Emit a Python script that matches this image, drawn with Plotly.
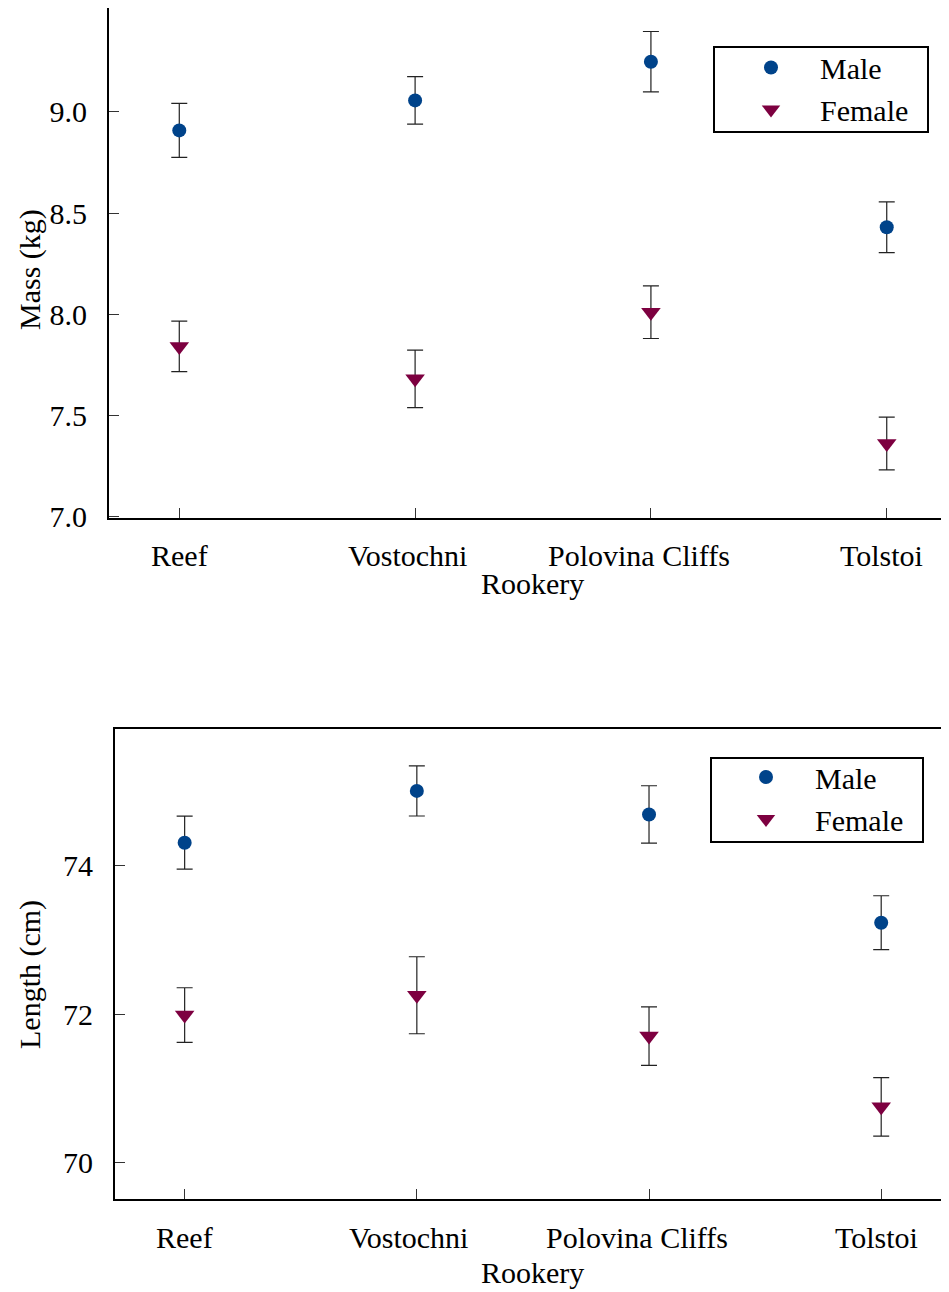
import plotly.graph_objects as go

rookeries = ["Reef", "Vostochni", "Polovina Cliffs", "Tolstoi"]

mass_male = [8.908, 9.056, 9.247, 8.430]
mass_male_err = [0.133, 0.117, 0.149, 0.125]
mass_female = [7.842, 7.682, 8.011, 7.363]
mass_female_err = [0.125, 0.142, 0.130, 0.130]

len_male = [74.31, 75.007, 74.69, 73.233]
len_male_err = [0.357, 0.338, 0.386, 0.363]
len_female = [71.99, 72.257, 71.707, 70.755]
len_female_err = [0.368, 0.518, 0.394, 0.393]

mass_ticks = [7.0, 7.5, 8.0, 8.5, 9.0]
len_ticks = [70, 72, 74]

# horizontal nudge (px) of each category label, as in the original layout
LABEL_SHIFT = [0, -8, -12, -5]

MALE_COLOR = "#00438A"
FEMALE_COLOR = "#7D0040"
FONT = "Liberation Serif"

OFF = 8                  # page body margin
W, H = 949 - OFF, 1292

fig = go.Figure()

def add_pair(male, male_err, female, female_err, xa, ya, legend):
    fig.add_trace(go.Scatter(
        x=rookeries, y=male, mode="markers", name="Male",
        marker=dict(symbol="circle", size=14, color=MALE_COLOR),
        error_y=dict(type="data", array=male_err, visible=True,
                     color="#222222", thickness=1.2, width=8),
        xaxis=xa, yaxis=ya, legend=legend))
    fig.add_trace(go.Scatter(
        x=rookeries, y=female, mode="markers", name="Female",
        marker=dict(symbol="triangle-down", size=17, color=FEMALE_COLOR),
        error_y=dict(type="data", array=female_err, visible=True,
                     color="#222222", thickness=1.2, width=8),
        xaxis=xa, yaxis=ya, legend=legend))

add_pair(mass_male, mass_male_err, mass_female, mass_female_err, "x", "y", "legend")
add_pair(len_male, len_male_err, len_female, len_female_err, "x2", "y2", "legend2")

def fy(ref_y):
    return ref_y - OFF

def py(ref_y):
    return min(1.0, 1 - fy(ref_y) / H)

def pyf(fig_y):
    return 1 - fig_y / H

def px(ref_x):
    return (ref_x - OFF) / W

axis_common = dict(
    showline=True, linecolor="black", linewidth=2,
    ticks="inside", ticklen=10, tickwidth=1, tickcolor="#333333",
    showgrid=False, zeroline=False, automargin=False,
    tickfont=dict(family=FONT, size=30, color="black"),
)

legend_common = dict(
    xanchor="left", yanchor="top", borderwidth=0,
    bgcolor="rgba(0,0,0,0)", font=dict(family=FONT, size=30, color="black"),
    itemwidth=88, tracegroupgap=0,
)

annotations = [
    dict(text="Mass (kg)", x=px(30), y=py(270), xref="paper", yref="paper",
         textangle=-90, showarrow=False, xanchor="center", yanchor="middle",
         font=dict(family=FONT, size=30)),
    dict(text="Rookery", x=px(532), y=py(583), xref="paper", yref="paper",
         showarrow=False, xanchor="center", yanchor="middle",
         font=dict(family=FONT, size=30)),
    dict(text="Length (cm)", x=px(30), y=py(975), xref="paper", yref="paper",
         textangle=-90, showarrow=False, xanchor="center", yanchor="middle",
         font=dict(family=FONT, size=30)),
    dict(text="Rookery", x=px(532), y=py(1272), xref="paper", yref="paper",
         showarrow=False, xanchor="center", yanchor="middle",
         font=dict(family=FONT, size=30)),
]
# category labels of both x axes
for xref, label_y in (("x", 555), ("x2", 1237)):
    for i, name in enumerate(rookeries):
        annotations.append(dict(
            text=name, x=name, xref=xref, y=py(label_y), yref="paper",
            xshift=LABEL_SHIFT[i], showarrow=False,
            xanchor="center", yanchor="middle",
            font=dict(family=FONT, size=30, color="black")))

fig.update_layout(
    width=W, height=H,
    margin=dict(l=0, r=0, t=0, b=0),
    paper_bgcolor="white", plot_bgcolor="white",
    font=dict(family=FONT, size=30, color="black"),
    xaxis=dict(domain=[px(109), 1], anchor="y", type="category",
               categoryarray=rookeries, categoryorder="array",
               range=[-0.298, 3.264], mirror=True, showticklabels=False,
               **axis_common),
    yaxis=dict(domain=[py(518), py(7)], anchor="x",
               range=[6.995, 9.512], tickvals=mass_ticks,
               ticktext=[f"{v:.1f}" for v in mass_ticks],
               ticklabelstandoff=14, **axis_common),
    xaxis2=dict(domain=[px(115), 1], anchor="y2", type="category",
                categoryarray=rookeries, categoryorder="array",
                range=[-0.30, 3.292], mirror=True, showticklabels=False,
                **axis_common),
    yaxis2=dict(domain=[py(1199.3), py(729)], anchor="x2",
                range=[69.511, 75.84], tickvals=len_ticks,
                ticktext=[str(v) for v in len_ticks],
                ticklabelstandoff=14, **axis_common),
    legend=dict(x=px(722), y=pyf(fy(89.5) - 48), **legend_common),
    legend2=dict(x=px(717), y=pyf(fy(800) - 49), **legend_common),
    shapes=[
        dict(type="rect", xref="paper", yref="paper",
             x0=px(714), x1=px(928), y0=py(132), y1=py(47),
             line=dict(color="black", width=2)),
        dict(type="rect", xref="paper", yref="paper",
             x0=px(711), x1=px(923), y0=py(842), y1=py(758),
             line=dict(color="black", width=2)),
    ],
    annotations=annotations,
)

fig.write_html("out.html")
